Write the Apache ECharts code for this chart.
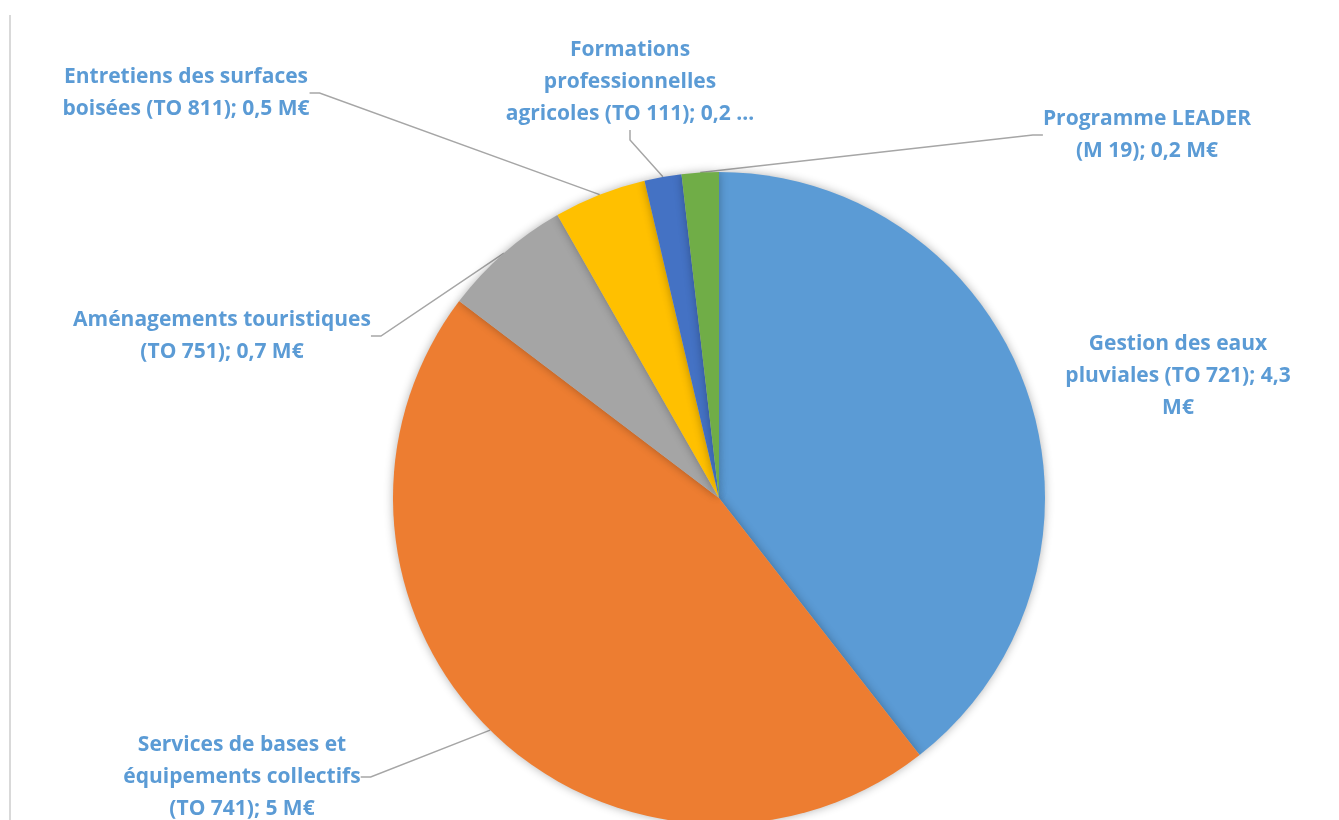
<!DOCTYPE html>
<html>
<head>
<meta charset="utf-8">
<script src="https://cdn.jsdelivr.net/npm/echarts@6/dist/echarts.min.js"></script>
<style>
html,body{margin:0;padding:0;background:#fff;}
#chart{width:1339px;height:820px;}
</style>
</head>
<body>
<div id="chart"></div>
<script>
// Data
const categories = [
  "Gestion des eaux pluviales (TO 721)",
  "Services de bases et équipements collectifs (TO 741)",
  "Aménagements touristiques (TO 751)",
  "Entretiens des surfaces boisées (TO 811)",
  "Formations professionnelles agricoles (TO 111)",
  "Programme LEADER (M 19)"
];
const values = [4.3, 5, 0.7, 0.5, 0.2, 0.2];
const labelTexts = [
  "Gestion des eaux\npluviales (TO 721); 4,3\nM€",
  "Services de bases et\néquipements collectifs\n(TO 741); 5 M€",
  "Aménagements touristiques\n(TO 751); 0,7 M€",
  "Entretiens des surfaces\nboisées (TO 811); 0,5 M€",
  "Formations\nprofessionnelles\nagricoles (TO 111); 0,2 …",
  "Programme LEADER\n(M 19); 0,2 M€"
];
const colors = ["#5B9BD5", "#ED7D31", "#A5A5A5", "#FFC000", "#4472C4", "#70AD47"];

// Label placement (centres of the text blocks)
const labelPos = [
  [1178, 376],
  [242, 777],
  [222, 336],
  [186, 93],
  [630, 82],
  [1147, 135]
];

const chart = echarts.init(document.getElementById('chart'));
chart.setOption({
  animation: false,
  graphic: [{
    type: 'line',
    shape: {x1: 10, y1: 15, x2: 10, y2: 820},
    style: {stroke: '#d9d9d9', lineWidth: 2}
  }],
  series: [{
    type: 'pie',
    center: [719, 498],
    radius: 326,
    startAngle: 90,
    clockwise: true,
    data: categories.map((c, i) => ({
      name: c,
      value: values[i],
      itemStyle: {color: colors[i]},
      labelLine: {show: i !== 0}
    })),
    itemStyle: {
      shadowBlur: 10,
      shadowColor: 'rgba(0,0,0,0.3)'
    },
    label: {
      show: true,
      position: 'outside',
      formatter: p => labelTexts[p.dataIndex],
      fontFamily: 'Open Sans',
      fontWeight: 'bold',
      fontSize: 21,
      lineHeight: 32,
      color: '#5B9BD5',
      align: 'center'
    },
    labelLine: {
      show: true,
      length: 20,
      length2: 10,
      lineStyle: {color: '#A6A6A6', width: 1.5}
    },
    labelLayout: p => ({
      x: labelPos[p.dataIndex][0],
      y: labelPos[p.dataIndex][1],
      align: 'center',
      verticalAlign: 'middle'
    })
  }]
});
</script>
</body>
</html>
